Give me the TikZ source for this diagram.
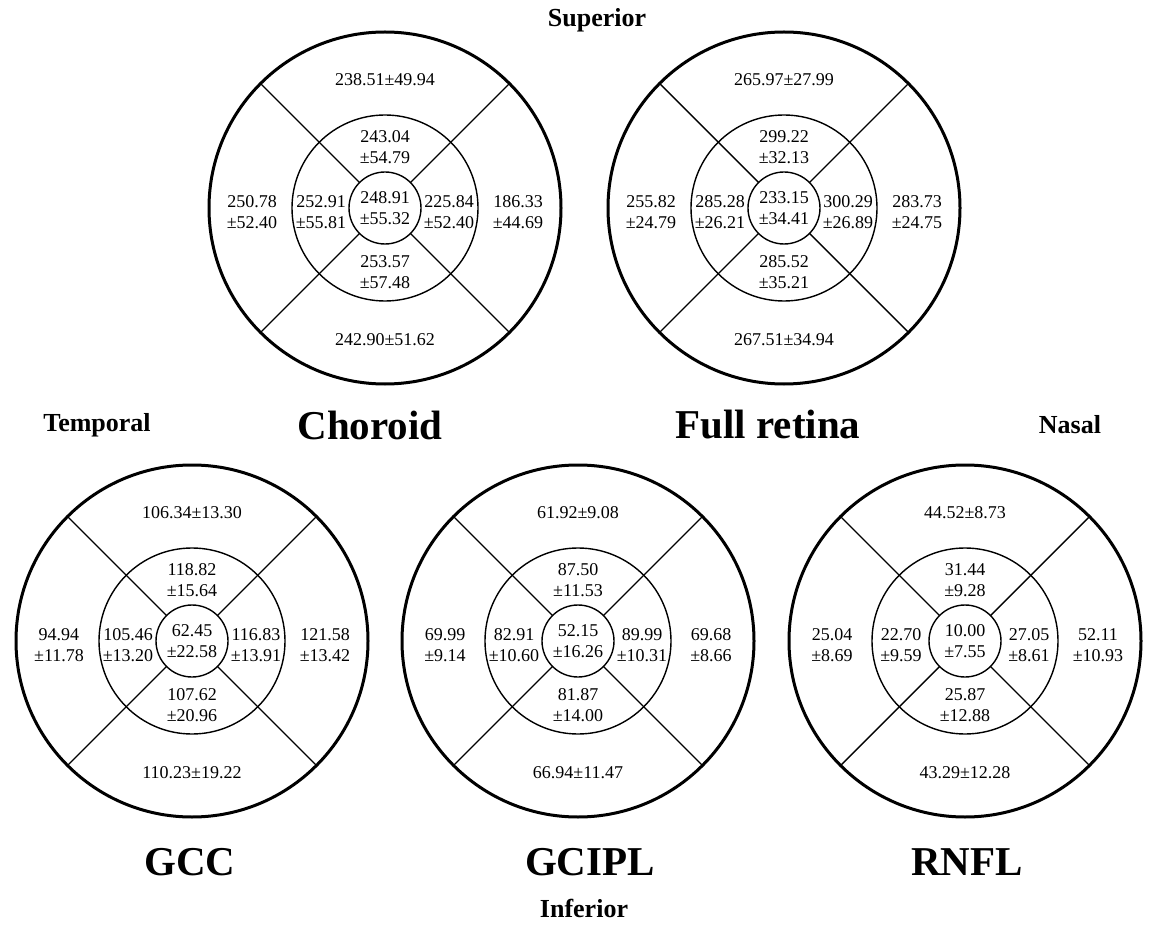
\documentclass[tikz,border=0pt]{standalone}
\usepackage{fontspec}
\setmainfont{Liberation Serif}
\usetikzlibrary{calc}

% one ETDRS map: name, centre, list of sector/value
\newcommand{\etdrs}[3]{%
  \coordinate (#1) at (#2);
  \draw[rim] (#1) circle[radius=176];
  \draw[ring] (#1) circle[radius=93] (#1) circle[radius=36];
  \foreach \a in {45,135,225,315}
    \draw[ring] ($(#1)+(\a:36)$) -- ($(#1)+(\a:176)$);
  \foreach \p/\t in {#3}
    \node[val,\p] (#1-\p) at (#1) {\t};
}

\begin{document}
\begin{tikzpicture}[
    x=1pt, y=-1pt,
    rim/.style={line width=3pt},
    ring/.style={line width=1.4pt},
    val/.style={align=center,inner sep=0pt,font=\fontsize{18}{21.5}\selectfont},
    maplbl/.style={inner sep=0pt,font=\fontsize{41}{48}\selectfont\bfseries},
    dirlbl/.style={inner sep=0pt,font=\fontsize{26}{30}\selectfont\bfseries},
    sup/.style={shift={(0,-128)}}, supin/.style={shift={(0,-61)}},
    ctr/.style={shift={(0,0)}},
    tmp/.style={shift={(-133,4)}}, tmpin/.style={shift={(-64,4)}},
    nas/.style={shift={(133,4)}},  nasin/.style={shift={(64,4)}},
    inf/.style={shift={(0,132)}},  infin/.style={shift={(0,64)}},
  ]
    \useasboundingbox (0,0) rectangle (1149,925);

    \etdrs{Ch}{385,208}{sup/238.51±49.94, supin/{243.04\\±54.79}, ctr/{248.91\\±55.32},
      tmpin/{252.91\\±55.81}, nasin/{225.84\\±52.40}, tmp/{250.78\\±52.40},
      nas/{186.33\\±44.69}, infin/{253.57\\±57.48}, inf/242.90±51.62}
    \etdrs{FR}{784,208}{sup/265.97±27.99, supin/{299.22\\±32.13}, ctr/{233.15\\±34.41},
      tmpin/{285.28\\±26.21}, nasin/{300.29\\±26.89}, tmp/{255.82\\±24.79},
      nas/{283.73\\±24.75}, infin/{285.52\\±35.21}, inf/267.51±34.94}
    \etdrs{GCC}{192,641}{sup/106.34±13.30, supin/{118.82\\±15.64}, ctr/{62.45\\±22.58},
      tmpin/{105.46\\±13.20}, nasin/{116.83\\±13.91}, tmp/{94.94\\±11.78},
      nas/{121.58\\±13.42}, infin/{107.62\\±20.96}, inf/110.23±19.22}
    \etdrs{GCIPL}{578,641}{sup/61.92±9.08, supin/{87.50\\±11.53}, ctr/{52.15\\±16.26},
      tmpin/{82.91\\±10.60}, nasin/{89.99\\±10.31}, tmp/{69.99\\±9.14},
      nas/{69.68\\±8.66}, infin/{81.87\\±14.00}, inf/66.94±11.47}
    \etdrs{RNFL}{965,641}{sup/44.52±8.73, supin/{31.44\\±9.28}, ctr/{10.00\\±7.55},
      tmpin/{22.70\\±9.59}, nasin/{27.05\\±8.61}, tmp/{25.04\\±8.69},
      nas/{52.11\\±10.93}, infin/{25.87\\±12.88}, inf/43.29±12.28}

    \node[maplbl] (Ch-name)    at (370,425) {Choroid};
    \node[maplbl] (FR-name)    at (768,425) {Full retina};
    \node[maplbl] (GCC-name)   at (190,862) {GCC};
    \node[maplbl] (GCIPL-name) at (590,862) {GCIPL};
    \node[maplbl] (RNFL-name)  at (967,862) {RNFL};

    \node[dirlbl] (superior) at (597,20)  {Superior};
    \node[dirlbl] (temporal) at (97,425)  {Temporal};
    \node[dirlbl] (nasal)    at (1070,425) {Nasal};
    \node[dirlbl] (inferior) at (584,908) {Inferior};
  \end{tikzpicture}
\end{document}
